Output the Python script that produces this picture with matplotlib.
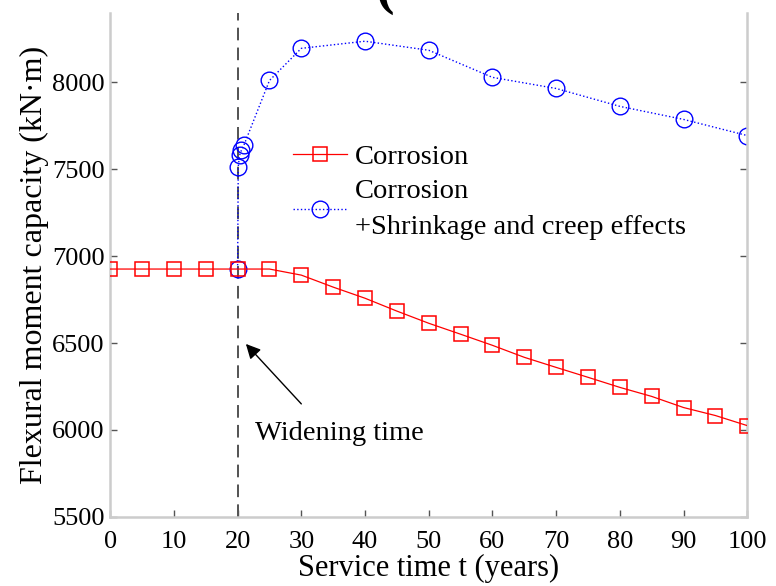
import numpy as np
import matplotlib.pyplot as plt

# data
t_corr = [0, 5, 10, 15, 20, 25, 30, 35, 40, 45, 50, 55, 60, 65, 70, 75, 80, 85, 90, 95, 100]
m_corr = [6926, 6926, 6926, 6926, 6926, 6926, 6891, 6822, 6758, 6684, 6614,
          6551, 6487, 6418, 6360, 6303, 6245, 6193, 6129, 6083, 6025]

t_creep = [20, 20.1, 20.3, 20.6, 21.0, 25, 30, 40, 50, 60, 70, 80, 90, 100]
m_creep = [6926, 7515, 7580, 7610, 7640, 8011, 8196, 8237, 8185, 8029, 7965, 7862, 7787, 7694]

widening_t = 20
xticks = list(range(0, 101, 10))
yticks = [5500, 6000, 6500, 7000, 7500, 8000]

plt.rcParams['font.family'] = ['Liberation Serif', 'DejaVu Serif']

fig = plt.figure(figsize=(7.76, 5.86), dpi=100)
ax = fig.add_axes([0.142, 0.118, 0.821, 0.860])

ax.axvline(widening_t, color='#444444', lw=1.3, ls=(0, (7, 4)), zorder=1)

ax.plot(t_corr, m_corr, color='red', lw=0.9, ls='-', marker='s', ms=10,
        mfc='none', mec='red', mew=1.1, label='Corrosion', zorder=3)
ax.plot(t_creep, m_creep, color='blue', lw=1.0, ls=':', marker='o', ms=12,
        mfc='none', mec='blue', mew=1.0,
        label='Corrosion\n+Shrinkage and creep effects', zorder=2)

ax.annotate('', xy=(21.3, 6495), xytext=(30.0, 6150),
            arrowprops=dict(arrowstyle='-|>', color='black', lw=1.0,
                            mutation_scale=22, shrinkA=0, shrinkB=0))
ax.text(22.8, 5980, 'Widening time', fontsize=20.5, va='center', ha='left')

ax.set_xlim(0, 100)
ax.set_ylim(5500, 8400)
ax.set_xticks(xticks)
ax.set_yticks(yticks)
ax.tick_params(direction='in', length=5, width=1, color='#555555',
               labelsize=19, right=True)
ax.tick_params(axis='x', pad=10)
ax.tick_params(axis='y', labelright=False, pad=4)

for side in ['left', 'right', 'bottom']:
    ax.spines[side].set_color('#cccccc')
    ax.spines[side].set_linewidth(1.8)
ax.spines['top'].set_visible(False)

ax.set_xlabel('Service time t (years)', fontsize=22)
ax.xaxis.set_label_coords(0.5, -0.074)
ax.set_ylabel('Flexural moment capacity (kN·m)', fontsize=23, labelpad=2)

leg = ax.legend(loc='upper left', bbox_to_anchor=(0.255, 0.779), frameon=False,
                fontsize=20.5, handlelength=1.9, handletextpad=0.3,
                labelspacing=0.3, borderpad=0.2)
leg.get_texts()[1].set_linespacing(1.6)

# piece of a caption from the figure above, cut by the crop
fig.text(376 / 776, (586 - 15) / 586, '(', fontsize=40, fontweight='bold',
         va='bottom', ha='left')

fig.savefig('out.png', dpi=100)
